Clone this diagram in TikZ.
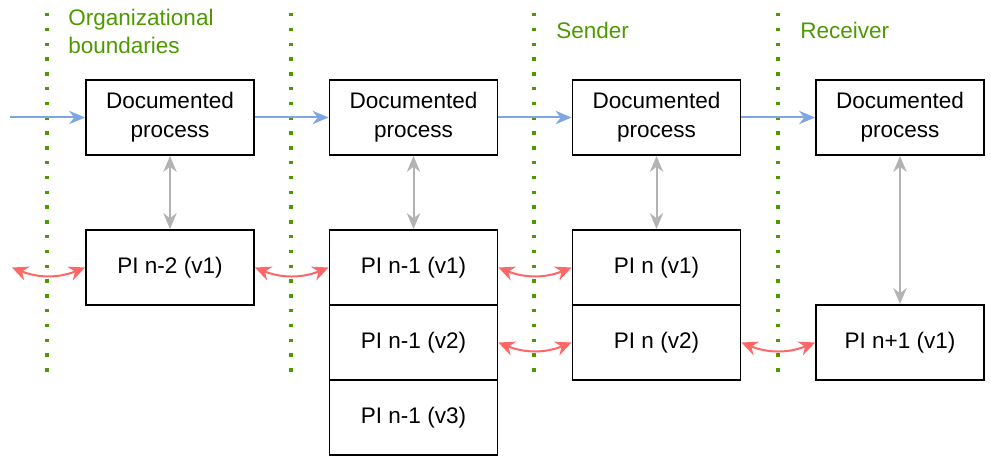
\documentclass[tikz,border=0pt]{standalone}
\usepackage{fontspec}
\setmainfont{Liberation Sans}
\usetikzlibrary{arrows.meta,positioning,calc}

\definecolor{flowblue}{HTML}{7EA6E0}
\definecolor{linkred}{HTML}{FF6666}
\definecolor{refgray}{HTML}{B3B3B3}
\definecolor{orggreen}{HTML}{4D9900}

\tikzset{
  box/.style={draw, line width=1.4pt, minimum width=126pt, minimum height=56.25pt,
    align=center, inner sep=0pt, font=\fontsize{16.9}{22}\selectfont},
  boundary/.style={orggreen, line width=2.6pt, dash pattern=on 2.6pt off 8.5pt},
  orglabel/.style={orggreen, anchor=north west, inner sep=0pt, align=left,
    font=\fontsize{16.9}{21}\selectfont},
  flow/.style={flowblue, line width=1.5pt, -{Stealth[length=12pt,width=10pt]}},
  ref/.style={refgray, line width=1.5pt, {Stealth[length=12pt,width=10pt]}-{Stealth[length=12pt,width=10pt]}},
  link/.style={linkred, line width=1.5pt, bend right=22,
    {Stealth[length=12pt,width=11pt]}-{Stealth[length=12pt,width=11pt]}}
}

\begin{document}
\begin{tikzpicture}[x=0.75pt,y=0.75pt]
\useasboundingbox (0,0) rectangle (991,-456);

% organizational boundaries
\foreach \bx in {47,291,534,778}
  \draw[boundary] (\bx,-13) -- (\bx,-379);
\node[orglabel] (orgs) at (68,-9) {Organizational\\boundaries};
\node[orglabel] (sender) at (556,-22) {Sender};
\node[orglabel] (receiver) at (800,-22) {Receiver};

% documented processes
\node[box] (doc1) at (170,-117.5) {Documented\\process};
\node[box] (doc2) at (413.5,-117.5) {Documented\\process};
\node[box] (doc3) at (656.5,-117.5) {Documented\\process};
\node[box] (doc4) at (900,-117.5) {Documented\\process};

% process instances
\node[box] (pi21) at (170,-267.5) {PI n-2 (v1)};
\node[box] (pi11) at (413.5,-267.5) {PI n-1 (v1)};
\node[box] (pi12) at (413.5,-342.5) {PI n-1 (v2)};
\node[box] (pi13) at (413.5,-417.5) {PI n-1 (v3)};
\node[box] (pi01) at (656.5,-267.5) {PI n (v1)};
\node[box] (pi02) at (656.5,-342.5) {PI n (v2)};
\node[box] (pi31) at (900,-342.5) {PI n+1 (v1)};

% process flow
\coordinate (start) at (10,-117.5);
\draw[flow] (start) -- (doc1.west);
\draw[flow] (doc1) -- (doc2);
\draw[flow] (doc2) -- (doc3);
\draw[flow] (doc3) -- (doc4);

% documentation references
\draw[ref] (doc1) -- (pi21);
\draw[ref] (doc2) -- (pi11);
\draw[ref] (doc3) -- (pi01);
\draw[ref] (doc4) -- (pi31);

% links between instances
\coordinate (prev) at (12,-267.5);
\draw[link] (prev) to (pi21.west);
\draw[link] (pi21.east) to (pi11.west);
\draw[link] (pi11.east) to (pi01.west);
\draw[link] (pi12.east) to (pi02.west);
\draw[link] (pi02.east) to (pi31.west);
\end{tikzpicture}
\end{document}
